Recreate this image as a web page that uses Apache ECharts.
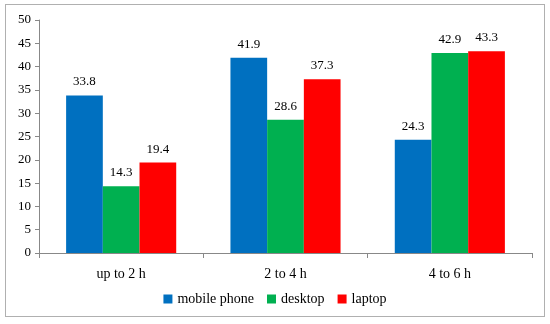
<!DOCTYPE html>
<html><head><meta charset="utf-8">
<script src="https://cdn.jsdelivr.net/npm/echarts@6/dist/echarts.min.js"></script>
<style>html,body{margin:0;padding:0;background:#fff}#c{width:550px;height:324px}
#frame{position:absolute;left:5px;top:4px;width:540px;height:313px;border:1px solid #b0b0b0;box-sizing:border-box;pointer-events:none}</style>
</head><body><div id="c"></div><div id="frame"></div>
<script>
const categories = ['up to 2 h', '2 to 4 h', '4 to 6 h'];
const mobilePhone = [33.8, 41.9, 24.3];
const desktop = [14.3, 28.6, 42.9];
const laptop = [19.4, 37.3, 43.3];
const yTicks = {min: 0, max: 50, interval: 5};

const font = 'Liberation Serif';
const chart = echarts.init(document.getElementById('c'));
const lbl = {show: true, position: 'top', color: '#000', fontFamily: font, fontSize: 13, distance: 7};
chart.setOption({
  animation: false,
  textStyle: {fontFamily: font},
  grid: {left: 39, right: 18, top: 20, bottom: 71, containLabel: false},
  legend: {
    bottom: 13, left: 'center', itemWidth: 9, itemHeight: 9, itemGap: 13, icon: 'rect',
    textStyle: {fontFamily: font, fontSize: 14, color: '#000'},
    data: ['mobile phone', 'desktop', 'laptop']
  },
  xAxis: {
    type: 'category', data: categories,
    axisLine: {lineStyle: {color: '#888'}},
    axisTick: {show: true, length: 5, lineStyle: {color: '#888'}},
    axisLabel: {color: '#000', fontFamily: font, fontSize: 14, margin: 14}
  },
  yAxis: {
    type: 'value', min: yTicks.min, max: yTicks.max, interval: yTicks.interval,
    splitLine: {show: false},
    axisLine: {show: true, lineStyle: {color: '#888'}},
    axisTick: {show: true, length: 4, lineStyle: {color: '#888'}},
    axisLabel: {color: '#000', fontFamily: font, fontSize: 13, margin: 8}
  },
  series: [
    {name: 'mobile phone', type: 'bar', data: mobilePhone, itemStyle: {color: '#0070C0'}, label: lbl, barGap: '0%', barCategoryGap: '33%'},
    {name: 'desktop', type: 'bar', data: desktop, itemStyle: {color: '#00B050'}, label: lbl, barGap: '0%', barCategoryGap: '33%'},
    {name: 'laptop', type: 'bar', data: laptop, itemStyle: {color: '#FF0000'}, label: lbl, barGap: '0%', barCategoryGap: '33%'}
  ]
});
</script></body></html>
